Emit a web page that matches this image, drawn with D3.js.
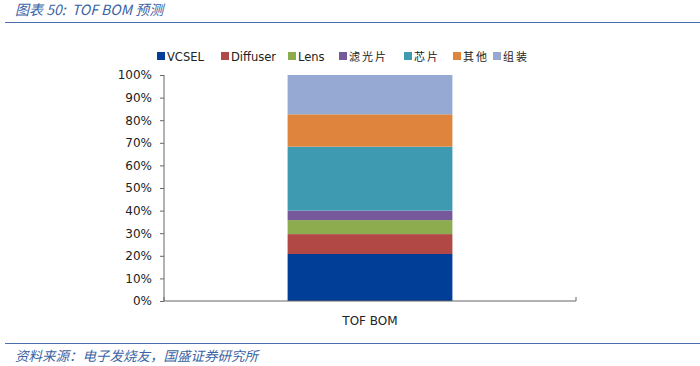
<!DOCTYPE html>
<html>
<head>
<meta charset="utf-8">
<script src="https://cdn.jsdelivr.net/npm/d3@7"></script>
<style>
  body { margin: 0; background: #fff; }
  svg { display: block; }
</style>
</head>
<body>
<svg width="700" height="366"></svg>
<script>
var svg = d3.select("svg");

// datos (porcentaje del BOM)
var categories = ["TOF BOM"];
var parts = ["VCSEL", "Diffuser", "Lens", "滤光片", "芯片", "其他", "组装"];
var shares = [20.8, 8.8, 6.2, 4.2, 28.3, 14.3, 17.4];
var colors = ["#003e98", "#b24846", "#8cac4e", "#77589a", "#3d9ab1", "#df843c", "#95a9d2"];
var yTicks = [0, 10, 20, 30, 40, 50, 60, 70, 80, 90, 100];

var latin = "'DejaVu Sans', Verdana, sans-serif";
var cjk = "'Noto Sans CJK SC', sans-serif";

// titulo y fuente
svg.append("text")
    .attr("x", 15).attr("y", 15)
    .attr("fill", "#3b63a6")
    .attr("font-style", "italic")
    .attr("font-family", cjk)
    .attr("font-size", 14)
    .attr("xml:space", "preserve")
    .text("图表 50:  TOF BOM 预测");

svg.append("line")
    .attr("x1", 5).attr("x2", 700)
    .attr("y1", 22.5).attr("y2", 22.5)
    .attr("stroke", "#4a6fae").attr("stroke-width", 1.2);

svg.append("line")
    .attr("x1", 5).attr("x2", 700)
    .attr("y1", 343.5).attr("y2", 343.5)
    .attr("stroke", "#4a6fae").attr("stroke-width", 1.2);

svg.append("text")
    .attr("x", 15).attr("y", 361)
    .attr("fill", "#3b63a6")
    .attr("font-style", "italic")
    .attr("font-family", cjk)
    .attr("font-size", 13.5)
    .text("资料来源：电子发烧友，国盛证券研究所");

// escalas
var x = d3.scaleBand()
    .domain(categories)
    .range([164, 576])
    .paddingInner(0)
    .paddingOuter(0.75);

var y = d3.scaleLinear()
    .domain([0, 100])
    .range([301, 75]);

// apilar
var row = {};
parts.forEach(function(p, i) { row[p] = shares[i]; });
var stacked = d3.stack().keys(parts)([row]);

svg.append("g")
    .selectAll("rect")
    .data(stacked)
    .enter().append("rect")
    .attr("x", x(categories[0]))
    .attr("width", x.bandwidth())
    .attr("y", function(d) { return y(d[0][1]); })
    .attr("height", function(d) { return y(d[0][0]) - y(d[0][1]); })
    .attr("fill", function(d, i) { return colors[i]; });

// eje y
var yAxis = svg.append("g")
    .attr("transform", "translate(164,0)")
    .call(d3.axisLeft(y)
        .tickValues(yTicks)
        .tickSize(4)
        .tickPadding(8)
        .tickFormat(function(d) { return d + "%"; }));
yAxis.select(".domain").attr("stroke", "#666").attr("d", "M0,75V301");
yAxis.selectAll(".tick line").attr("stroke", "#666");
yAxis.selectAll("text")
    .attr("font-family", latin)
    .attr("font-size", 12)
    .attr("fill", "#222");

// eje x
var xAxis = svg.append("g")
    .attr("transform", "translate(0,301)")
    .call(d3.axisBottom(x).tickSize(0).tickPadding(15));
xAxis.select(".domain").attr("stroke", "#666").attr("d", "M164,-4V0H576V-4");
xAxis.selectAll("text")
    .attr("font-family", latin)
    .attr("font-size", 12)
    .attr("fill", "#222");

// leyenda
var legendX = [157, 221, 288, 339, 404, 453, 493];
var legend = svg.append("g")
    .selectAll("g")
    .data(parts)
    .enter().append("g")
    .attr("transform", function(d, i) { return "translate(" + legendX[i] + ",52)"; });

legend.append("rect")
    .attr("width", 8).attr("height", 8)
    .attr("fill", function(d, i) { return colors[i]; });

legend.append("text")
    .attr("x", 10).attr("y", 8.5)
    .attr("font-family", function(d, i) { return i < 3 ? latin : cjk; })
    .attr("font-size", function(d, i) { return i < 3 ? 11.5 : 11; })
    .attr("letter-spacing", function(d, i) { return i < 3 ? 0 : 2; })
    .attr("fill", "#222")
    .text(function(d) { return d; });
</script>
</body>
</html>
